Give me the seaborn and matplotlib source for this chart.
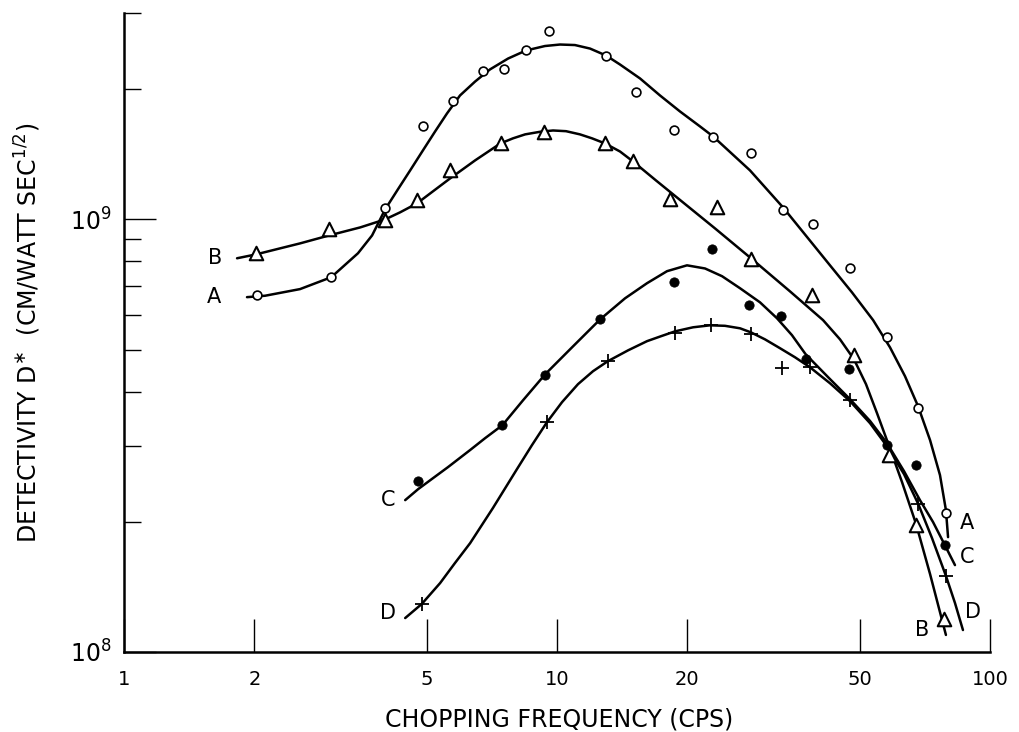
import matplotlib
matplotlib.use("Agg")
import matplotlib.pyplot as plt
import matplotlib.ticker as mticker
import seaborn as sns

# measured points, frequency in cps, D* in cm/watt sec^1/2
a_freq = [2.03, 3.01, 4.01, 4.90, 5.76, 6.74, 7.53, 8.47, 9.59, 12.98, 15.22,
          18.63, 22.88, 28.10, 33.26, 38.95, 47.6, 57.7, 68.2, 79.0]
a_det = [6.68e8, 7.36e8, 1.064e9, 1.643e9, 1.873e9, 2.197e9, 2.221e9, 2.466e9,
         2.722e9, 2.388e9, 1.975e9, 1.610e9, 1.552e9, 1.426e9, 1.053e9, 9.77e8,
         7.74e8, 5.35e8, 3.66e8, 2.09e8]

b_freq = [2.02, 2.98, 4.01, 4.74, 5.66, 7.41, 9.35, 12.91, 15.01, 18.24, 23.45,
          28.05, 38.87, 48.4, 58.55, 67.5, 78.3]
b_det = [8.38e8, 9.52e8, 9.95e8, 1.106e9, 1.302e9, 1.501e9, 1.594e9, 1.501e9,
         1.361e9, 1.116e9, 1.067e9, 8.11e8, 6.68e8, 4.86e8, 2.86e8, 1.965e8, 1.19e8]

c_freq = [4.77, 7.48, 9.40, 12.57, 18.66, 22.76, 27.71, 32.91, 37.53, 47.25,
          57.9, 67.4, 78.7]
c_det = [2.487e8, 3.344e8, 4.378e8, 5.87e8, 7.17e8, 8.56e8, 6.35e8, 5.99e8,
         4.75e8, 4.52e8, 3.008e8, 2.70e8, 1.764e8]

d_freq = [4.87, 9.47, 13.10, 18.73, 22.64, 28.05, 33.03, 38.4, 47.5, 68.3, 79.0]
d_det = [1.291e8, 3.393e8, 4.70e8, 5.46e8, 5.69e8, 5.43e8, 4.54e8, 4.56e8,
         3.82e8, 2.197e8, 1.50e8]

# hand drawn curves
a_fit_freq = [1.923, 2.117, 2.55, 3.01, 3.47, 3.74, 4.01, 4.29, 4.58, 4.90, 5.23,
              5.57, 5.97, 6.47, 7.00, 7.71, 8.48, 9.38, 10.16, 11.0, 11.92,
              12.98, 13.98, 15.55, 17.29, 19.23, 21.39, 22.93, 27.9, 33.26, 42.7,
              48.0, 53.7, 58.75, 63.63, 68.2, 72.7, 76.64, 79.1, 80.0]
a_fit_det = [6.61e8, 6.66e8, 6.9e8, 7.35e8, 8.35e8, 9.18e8, 1.055e9, 1.173e9,
             1.298e9, 1.443e9, 1.597e9, 1.757e9, 1.934e9, 2.083e9, 2.221e9,
             2.354e9, 2.457e9, 2.516e9, 2.536e9, 2.529e9, 2.482e9, 2.392e9,
             2.280e9, 2.117e9, 1.934e9, 1.776e9, 1.640e9, 1.555e9, 1.298e9,
             1.066e9, 7.83e8, 6.78e8, 5.85e8, 5.06e8, 4.34e8, 3.70e8, 3.088e8,
             2.564e8, 2.128e8, 1.843e8]

b_fit_freq = [1.824, 2.018, 2.293, 2.55, 2.975, 3.51, 4.01, 4.34, 4.75, 5.17, 5.66,
              6.47, 7.40, 7.91, 8.44, 9.14, 9.79, 10.49, 11.30, 12.05, 12.91,
              13.98, 14.98, 16.93, 19.23, 23.17, 28.05, 34.5, 41.15, 45.04, 48.5,
              51.71, 54.83, 58.13, 62.63, 67.5, 72.7, 79.1]
b_fit_det = [8.13e8, 8.30e8, 8.57e8, 8.80e8, 9.18e8, 9.58e8, 1.0e9, 1.038e9,
             1.089e9, 1.161e9, 1.243e9, 1.369e9, 1.498e9, 1.539e9, 1.572e9,
             1.594e9, 1.605e9, 1.599e9, 1.572e9, 1.539e9, 1.498e9, 1.435e9,
             1.361e9, 1.230e9, 1.109e9, 9.53e8, 8.13e8, 6.82e8, 5.85e8, 5.28e8,
             4.75e8, 4.16e8, 3.565e8, 3.04e8, 2.47e8, 1.975e8, 1.514e8, 1.095e8]

c_fit_freq = [4.46, 4.78, 5.17, 5.60, 6.30, 6.82, 7.48, 8.35, 9.40, 10.83, 12.57,
              14.36, 16.14, 17.95, 19.96, 21.97, 24.05, 26.47, 29.43, 32.2,
              34.88, 37.5, 42.25, 47.5, 52.83, 57.8, 63.3, 68.9, 73.86, 78.7, 83.0]
c_fit_det = [2.244e8, 2.38e8, 2.522e8, 2.675e8, 2.93e8, 3.12e8, 3.344e8, 3.82e8,
             4.39e8, 5.06e8, 5.87e8, 6.57e8, 7.12e8, 7.59e8, 7.83e8, 7.70e8,
             7.39e8, 6.93e8, 6.43e8, 5.91e8, 5.40e8, 4.88e8, 4.32e8, 3.84e8,
             3.42e8, 3.04e8, 2.618e8, 2.244e8, 1.997e8, 1.764e8, 1.588e8]

d_fit_freq = [4.46, 4.87, 5.37, 5.81, 6.30, 7.11, 8.08, 8.75, 9.47, 10.27, 11.18,
              12.11, 13.10, 14.59, 16.14, 17.39, 18.73, 20.61, 22.56, 24.43,
              26.47, 28.05, 30.22, 32.7, 35.45, 38.4, 42.7, 47.5, 52.83, 57.8,
              63.3, 68.3, 73.45, 79.1, 83.0, 86.6]
d_fit_det = [1.198e8, 1.291e8, 1.443e8, 1.605e8, 1.785e8, 2.151e8, 2.646e8,
             3.006e8, 3.393e8, 3.78e8, 4.16e8, 4.457e8, 4.70e8, 4.98e8, 5.23e8,
             5.37e8, 5.51e8, 5.63e8, 5.69e8, 5.675e8, 5.60e8, 5.48e8, 5.28e8,
             5.04e8, 4.80e8, 4.55e8, 4.18e8, 3.80e8, 3.38e8, 2.99e8, 2.577e8,
             2.197e8, 1.834e8, 1.50e8, 1.298e8, 1.124e8]

# curve letters (letter, freq, D*)
curve_tags = [("A", 1.617, 6.62e8), ("B", 1.623, 8.12e8), ("C", 4.08, 2.244e8),
              ("D", 4.08, 1.229e8), ("A", 88.4, 1.983e8), ("C", 88.4, 1.66e8),
              ("D", 91.5, 1.24e8), ("B", 69.6, 1.124e8)]

x_ticks = [1, 2, 5, 10, 20, 50, 100]
x_ticklabels = ["1", "2", "5", "10", "20", "50", "100"]
y_ticks = [1e8, 1e9]
y_ticklabels = [r"$10^{8}$", r"$10^{9}$"]

sns.set_style("ticks")
plt.rcParams["font.family"] = ["DejaVu Sans"]
plt.rcParams["text.color"] = "black"
plt.rcParams["axes.labelcolor"] = "black"
plt.rcParams["xtick.color"] = "black"
plt.rcParams["ytick.color"] = "black"

fig = plt.figure(figsize=(10.2, 7.32), dpi=100)
ax = fig.add_axes([0.1216, 0.1093, 0.849, 0.873])
ax.set_xscale("log")
ax.set_yscale("log")

for fx, fy in [(a_fit_freq, a_fit_det), (b_fit_freq, b_fit_det),
               (c_fit_freq, c_fit_det), (d_fit_freq, d_fit_det)]:
    sns.lineplot(x=fx, y=fy, color="black", lw=1.8, sort=False,
                 estimator=None, ax=ax, zorder=2,
                 solid_joinstyle="round", solid_capstyle="round")

sns.scatterplot(x=a_freq, y=a_det, marker="o", s=40, facecolor="white",
                edgecolor="black", linewidth=1.2, ax=ax, zorder=3)
sns.scatterplot(x=b_freq, y=b_det, marker="^", s=95, facecolor="white",
                edgecolor="black", linewidth=1.5, ax=ax, zorder=3)
sns.scatterplot(x=c_freq, y=c_det, marker="o", s=45, color="black",
                edgecolor="black", ax=ax, zorder=3)
sns.scatterplot(x=d_freq, y=d_det, marker="+", s=110, color="black",
                linewidth=1.3, ax=ax, zorder=3)

for tag, tx, ty in curve_tags:
    ax.text(tx, ty, tag, fontsize=15, ha="center", va="center")

ax.set_xlim(1, 100)
ax.set_ylim(1e8, 3e9)
ax.set_xticks(x_ticks, labels=x_ticklabels)
ax.xaxis.set_minor_locator(mticker.NullLocator())
ax.set_yticks(y_ticks, labels=y_ticklabels)
ax.yaxis.set_minor_locator(mticker.LogLocator(base=10, subs=range(2, 10)))
ax.yaxis.set_minor_formatter(mticker.NullFormatter())

ax.tick_params(bottom=True, left=True, top=False, right=False)
ax.tick_params(axis="x", which="major", direction="in", length=24, width=1.0,
               pad=13, labelsize=14)
ax.tick_params(axis="y", which="major", direction="in", length=23, width=1.0,
               pad=9, labelsize=17)
ax.tick_params(axis="y", which="minor", direction="in", length=12, width=1.0)

sns.despine(ax=ax)
for side in ["left", "bottom"]:
    ax.spines[side].set_linewidth(1.8)
    ax.spines[side].set_color("black")

ax.set_xlabel("CHOPPING FREQUENCY (CPS)", fontsize=17)
ax.set_ylabel(r"DETECTIVITY D$^{\ast}$  (CM/WATT SEC$^{1/2}$)", fontsize=17)
ax.xaxis.label.set_verticalalignment("baseline")
ax.xaxis.set_label_coords(0.503, -0.116)
ax.yaxis.set_label_coords(-0.094, 0.5)

fig.savefig("out.png", dpi=100)
